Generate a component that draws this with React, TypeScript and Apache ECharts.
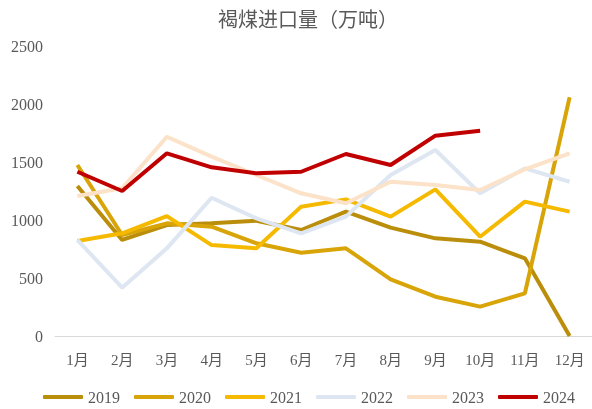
import React, { useEffect, useRef } from "react";
import * as echarts from "echarts";

const months = ["1月", "2月", "3月", "4月", "5月", "6月", "7月", "8月", "9月", "10月", "11月", "12月"];
const years = ["2019", "2020", "2021", "2022", "2023", "2024"];
const v2019 = [1293, 828, 957, 971, 994, 914, 1072, 934, 842, 813, 670, 0];
const v2020 = [1474, 871, 971, 942, 799, 718, 756, 489, 339, 253, 368, 2058];
const v2021 = [819, 885, 1034, 784, 756, 1115, 1178, 1029, 1264, 856, 1158, 1072];
const v2022 = [828, 417, 756, 1192, 1014, 885, 1029, 1388, 1603, 1230, 1445, 1330];
const v2023 = [1207, 1273, 1718, 1546, 1388, 1230, 1144, 1330, 1302, 1259, 1437, 1575];
const v2024 = [1416, 1250, 1575, 1454, 1402, 1416, 1569, 1474, 1727, 1770];
const yTicks = [0, 500, 1000, 1500, 2000, 2500];

const colors = ["#BA8E0A", "#D8A408", "#F5BA00", "#DDE6F1", "#FBE2C8", "#C00000"];
const allValues = [v2019, v2020, v2021, v2022, v2023, v2024];

const FONT = "'Liberation Serif', 'Noto Sans CJK SC', serif";

export default function App() {
  const ref = useRef<HTMLDivElement>(null);
  useEffect(() => {
    if (!ref.current) return;
    const chart = echarts.init(ref.current, null, { renderer: "svg" });
    chart.setOption({
      animation: false,
      title: {
        text: "褐煤进口量（万吨）",
        left: 303,
        top: 3,
        textAlign: "center",
        textStyle: { fontFamily: "'Noto Sans CJK SC', sans-serif", fontSize: 20, fontWeight: "normal", color: "#595959" },
      },
      grid: { left: 55, top: 46, height: 290, width: 542 },
      legend: {
        data: years,
        left: 38,
        top: 384,
        itemWidth: 40,
        itemHeight: 4,
        itemGap: 14,
        icon: "roundRect",
        textStyle: { fontFamily: FONT, fontSize: 16, color: "#595959" },
      },
      xAxis: {
        type: "category",
        data: months,
        boundaryGap: true,
        axisLine: { lineStyle: { color: "#D9D9D9", width: 1 } },
        axisTick: { show: false },
        axisLabel: { fontFamily: FONT, fontSize: 15, color: "#595959", margin: 16 },
      },
      yAxis: {
        type: "value",
        min: yTicks[0],
        max: yTicks[yTicks.length - 1],
        interval: 500,
        axisLine: { show: false },
        axisTick: { show: false },
        splitLine: { show: false },
        axisLabel: { fontFamily: FONT, fontSize: 16, color: "#595959", margin: 12, formatter: (v: number) => String(v) },
      },
      series: years.map((y, i) => ({
        name: y,
        type: "line",
        data: allValues[i],
        symbol: "none",
        lineStyle: { color: colors[i], width: 4 },
        itemStyle: { color: colors[i] },
      })),
    });
    return () => chart.dispose();
  }, []);
  return <div ref={ref} style={{ position: "fixed", left: 0, top: 0, width: 592, height: 409 }} />;
}
